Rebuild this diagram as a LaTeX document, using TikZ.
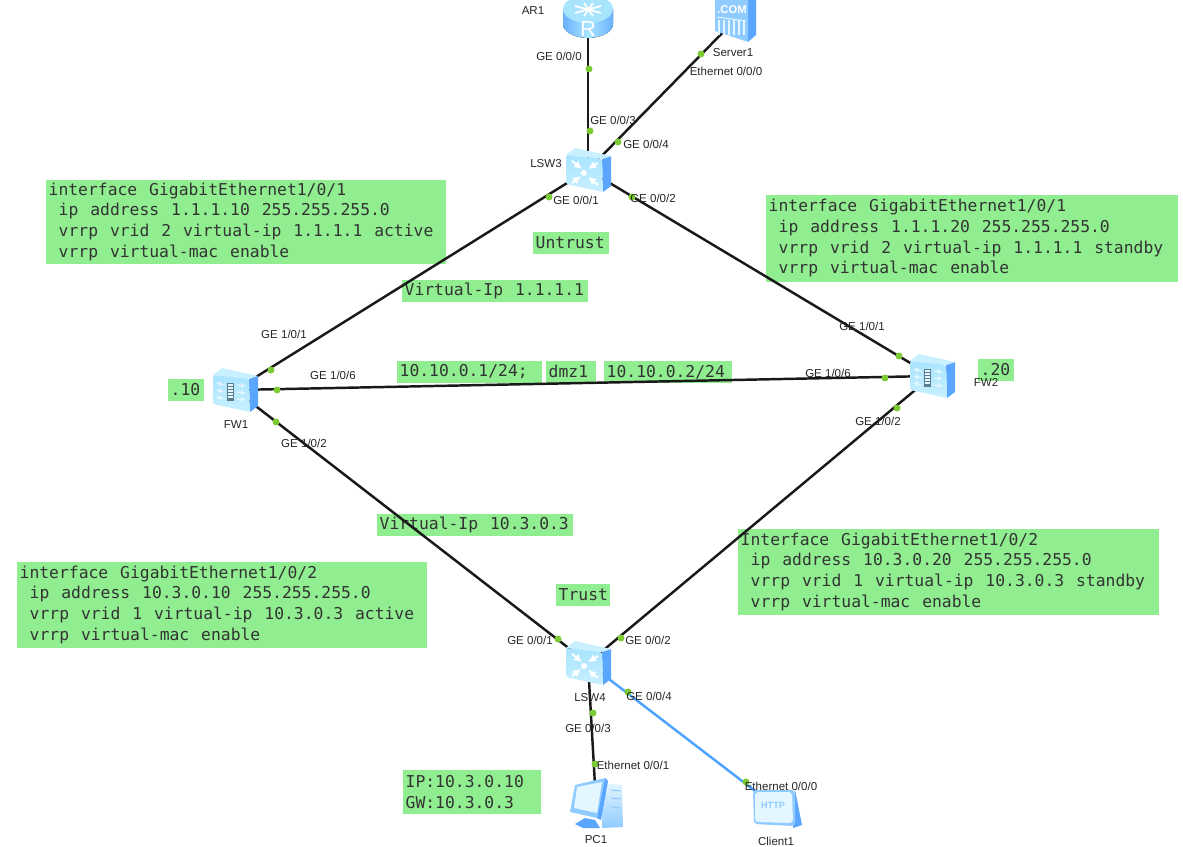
\documentclass[tikz,border=0pt]{standalone}
\usepackage{fontspec}
\setmainfont{Liberation Sans}
\newfontfamily\boxfont{DejaVu Sans Mono}
\usetikzlibrary{arrows.meta}

\definecolor{boxgreen}{HTML}{90EE90}
\definecolor{portgreen}{HTML}{7CCB35}
\definecolor{iconface}{HTML}{A9E4FF}
\definecolor{icontop}{HTML}{C8F0FF}
\definecolor{iconside}{HTML}{5AA6FF}
\definecolor{iconmid}{HTML}{8FCBFF}
\definecolor{iconpale}{HTML}{E4F6FF}
\definecolor{clientline}{HTML}{4DA3FF}

\newcommand{\cfgindent}{\hspace*{2.85pt}}

\tikzset{
  devnode/.style={inner sep=0pt,minimum size=.1cm},
  link/.style={line width=.7pt,black!90},
  port/.style={circle,fill=portgreen,inner sep=0pt,minimum size=.07cm},
  portlabel/.style={inner sep=0pt,font=\fontsize{3.28}{4}\selectfont,text=black!85},
  gbox/.style={fill=boxgreen,inner xsep=.03cm,inner ysep=0pt,anchor=north west,align=left,
    font=\boxfont\fontsize{4.65}{5.9}\selectfont,text=black!80,
    execute at begin node={\spaceskip=3.39pt\relax}},
  whitearrow/.style={white,line width=.55pt,-{Latex[length=.08cm,width=.08cm]}},
  thinarrow/.style={iconpale,line width=.35pt,-{Latex[length=.05cm,width=.05cm]}},
  boxicon/.pic={
    \fill[iconside] (14,-11) -- (23,-14) -- (23,16) -- (15,22) -- cycle;
    \fill[icontop] (-22,-15) -- (-13,-22) -- (23,-14) -- (14,-11) -- cycle;
    \shade[top color=iconface,bottom color=icontop,rounded corners=.5pt]
      (-22,-15) -- (14,-11) -- (15,22) -- (-22,14) -- cycle;
  },
  switchicon/.pic={
    \pic {boxicon};
    \draw[whitearrow] (-16,-9) -- (-6,-1);
    \draw[whitearrow] (10,-7) -- (0,-1);
    \draw[whitearrow] (-16,13) -- (-7,6);
    \draw[whitearrow] (10,15) -- (0,7);
    \fill[white] (-4,3) circle (3);
  },
  fwicon/.pic={
    \pic {boxicon};
    \foreach \dy in {-5,2,9}{
      \draw[thinarrow] (-10,\dy) -- (-19,\dy-2);
      \draw[thinarrow] (2,\dy) -- (11,\dy+1);
    }
    \fill[black!45!iconface] (-8,-7) rectangle (-1,11);
    \foreach \dy in {-5,-2,...,9}
      \draw[iconpale,line width=.4pt] (-7,\dy) -- (-2,\dy);
  },
  routericon/.pic={
    \fill[left color=iconside!70!iconmid,right color=iconside!70!iconmid,middle color=iconface]
      (-25,-3) -- (25,-3) -- (25,12) arc (0:180:25 and 14) -- cycle;
    \fill[iconface] (0,-3) ellipse (25 and 14);
    \draw[white,line width=.5pt] (-13,-6) -- (13,1) (-13,1) -- (13,-6) (-4,-9) -- (5,4) (5,-9) -- (-4,4);
    \node[text=white,font=\fontsize{6.2}{6.2}\selectfont,inner sep=0pt] (rlabel) at (0,17) {R};
  },
  servericon/.pic={
    \fill[iconside] (13,-25) -- (21,-25) -- (21,15) -- (13,22) -- cycle;
    \fill[iconmid] (-20,-25) -- (13,-25) -- (13,22) -- (-20,11) -- cycle;
    \foreach \sx in {-16,-11,...,9}
      \draw[iconpale,line width=.3pt] (\sx,0) -- (\sx,15);
    \draw[iconpale,line width=.3pt] (-18,-3) -- (11,1);
    \node[text=white,font=\bfseries\fontsize{3.2}{3}\selectfont,inner sep=0pt] (comlabel) at (-3,-10) {.COM};
  },
  pcicon/.pic={
    \shade[top color=iconpale,bottom color=iconmid] (7,-20) -- (26,-18) -- (27,24) -- (6,25) -- cycle;
    \draw[iconmid,line width=.3pt] (15,-13) -- (25,-12) (15,-5) -- (25,-4) (15,4) -- (25,5);
    \fill[iconside] (-21,21) -- (-11,15) -- (-1,17) -- (4,25) -- (-13,25) -- cycle;
    \fill[iconmid] (9,-25) -- (-21,-18) -- (-26,9) -- (1,15) -- cycle;
    \fill[iconside] (9,-25) -- (12,-22) -- (5,17) -- (1,15) -- cycle;
    \fill[iconpale] (-19,-16) -- (6,-21) -- (1,10) -- (-22,5) -- cycle;
  },
  clienticon/.pic={
    \fill[iconside] (19,-17) -- (26,18) -- (17,21) -- cycle;
    \fill[iconmid,rounded corners=1pt] (-23,-17) -- (19,-17) -- (19,19) -- (-22,17) -- cycle;
    \fill[iconpale,rounded corners=1pt] (-21,-15) -- (16,-15) -- (17,16) -- (-21,15) -- cycle;
    \node[text=iconmid,font=\bfseries\fontsize{2.6}{3}\selectfont,inner sep=0pt] (httplabel) at (-3,-2) {HTTP};
  }
}

\begin{document}
\begin{tikzpicture}[x=.01cm,y=-.01cm]
\clip (0,0) rectangle (1183,846);

% green notes
\node[gbox,text width=3.94cm,minimum height=.84cm] (cfgfwa) at (45,179)
  {interface GigabitEthernet1/0/1\\\cfgindent ip address 1.1.1.10 255.255.255.0\\\cfgindent vrrp vrid 2 virtual-ip 1.1.1.1 active\\\cfgindent vrrp virtual-mac enable};
\node[gbox,text width=4.06cm,minimum height=.87cm] (cfgfwb) at (765,194)
  {interface GigabitEthernet1/0/1\\\cfgindent ip address 1.1.1.20 255.255.255.0\\\cfgindent vrrp vrid 2 virtual-ip 1.1.1.1 standby\\\cfgindent vrrp virtual-mac enable};
\node[gbox,text width=4.04cm,minimum height=.86cm] (cfgfwc) at (16,561)
  {interface GigabitEthernet1/0/2\\\cfgindent ip address 10.3.0.10 255.255.255.0\\\cfgindent vrrp vrid 1 virtual-ip 10.3.0.3 active\\\cfgindent vrrp virtual-mac enable};
\node[gbox,text width=4.15cm,minimum height=.86cm] (cfgfwd) at (737,528)
  {Interface GigabitEthernet1/0/2\\\cfgindent ip address 10.3.0.20 255.255.255.0\\\cfgindent vrrp vrid 1 virtual-ip 10.3.0.3 standby\\\cfgindent vrrp virtual-mac enable};
\node[gbox,text width=1.32cm,minimum height=.44cm] (ipbox) at (402,769) {IP:10.3.0.10\\GW:10.3.0.3};
\foreach \name/\x/\y/\w/\txt in {
  vipup/401/279/1.8/{Virtual-Ip 1.1.1.1},
  untrust/532/231/.7/{Untrust},
  dotten/167/378/.3/{.10},
  ipone/396/360/1.39/{10.10.0.1/24;},
  dmz/545/360/.44/{dmz1},
  iptwo/603/360/1.22/{10.10.0.2/24},
  vipdown/376/513/1.9/{Virtual-Ip 10.3.0.3},
  trust/555/583/.48/{Trust},
  dottwenty/977/358/.3/{.20}}
  \node[gbox,text width=\w cm,minimum height=.22cm] (\name) at (\x,\y) {\mbox{\txt}};

% devices
\node[devnode] (ar1) at (588,12) {};
\node[devnode] (server1) at (735,20) {};
\node[devnode] (lsw3) at (588,170) {};
\node[devnode] (fw1) at (235,390) {};
\node[devnode] (fw2) at (932,376) {};
\node[devnode] (lsw4) at (588,663) {};
\node[devnode] (pc1) at (596,803) {};
\node[devnode] (client1) at (776,807) {};

% links
\draw[link] (ar1) -- (lsw3);
\draw[link] (server1) -- (lsw3);
\draw[link] (lsw3) -- (fw1);
\draw[link] (lsw3) -- (fw2);
\draw[link] (fw1) -- (fw2);
\draw[link] (fw1) -- (lsw4);
\draw[link] (fw2) -- (lsw4);
\draw[link] (lsw4) -- (pc1);
\draw[line width=.7pt,clientline] (lsw4) -- (client1);

\pic at (ar1) {routericon};
\pic at (server1) {servericon};
\pic at (lsw3) {switchicon};
\pic at (lsw4) {switchicon};
\pic at (fw1) {fwicon};
\pic at (fw2) {fwicon};
\pic at (pc1) {pcicon};
\pic at (client1) {clienticon};

% ports
\foreach \name/\x/\y in {pa/589/69,pb/590/131,pc/701/54,pd/618/142,pe/549/197,pf/271/370,
  pg/632/197,ph/899/356,pi/277/390,pj/885/378,pk/276/422,pl/558/639,pm/897/408,pn/621/638,
  po/593/713,pp/595/764,pq/628/692,pr/746/782}
  \node[port] (\name) at (\x,\y) {};

% labels
\foreach \name/\x/\y/\txt in {
  nar/533/11/{AR1},
  nsrv/733/53/{Server1},
  nsw/546/164/{LSW3},
  nfwa/236/425/{FW1},
  nfwb/986/382/{FW2},
  nswb/590/698/{LSW4},
  npc/596/840/{PC1},
  ncl/776/841/{Client1},
  la/559/56/{GE 0/0/0},
  lb/613/120/{GE 0/0/3},
  lc/726/71/{Ethernet 0/0/0},
  ld/646/144/{GE 0/0/4},
  le/576/200/{GE 0/0/1},
  lf/653/198/{GE 0/0/2},
  lg/284/334/{GE 1/0/1},
  lh/333/375/{GE 1/0/6},
  li/304/443/{GE 1/0/2},
  lj/862/326/{GE 1/0/1},
  lk/828/373/{GE 1/0/6},
  ll/878/421/{GE 1/0/2},
  lm/530/640/{GE 0/0/1},
  ln/648/640/{GE 0/0/2},
  lo/649/696/{GE 0/0/4},
  lp/588/728/{GE 0/0/3},
  lq/633/765/{Ethernet 0/0/1},
  lr/781/786/{Ethernet 0/0/0}}
  \node[portlabel] (\name) at (\x,\y) {\txt};

\end{tikzpicture}
\end{document}
